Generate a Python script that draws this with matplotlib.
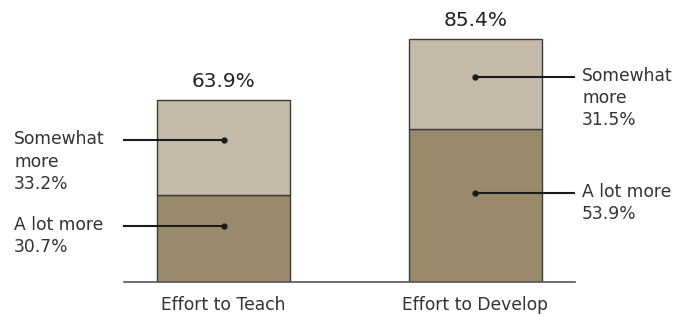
import matplotlib.pyplot as plt
import numpy as np

# datos
categorias = ['Effort to Teach', 'Effort to Develop']
mucho_mas = [30.7, 53.9]
algo_mas = [33.2, 31.5]
totales = [63.9, 85.4]
etiqueta_mucho = 'A lot more'
etiqueta_algo = 'Somewhat\nmore'

color_oscuro = '#9a8a6c'
color_claro = '#c5baa9'
color_borde = '#3a3a3a'
color_texto = '#333333'

plt.rcParams['font.family'] = ['DejaVu Sans']

fig = plt.figure(figsize=(6.83, 3.16), dpi=100)
W, H = 683, 316
# ejes en pixeles: izq 124, der 575, base 282 desde arriba
ax = fig.add_axes([124 / W, 34 / H, (575 - 124) / W, 270 / H])
ax.set_xlim(-0.395, 1.395)
ax.set_ylim(0, 95)
ax.axis('off')

x = np.arange(len(categorias))
ancho = 0.528
ax.bar(x, mucho_mas, ancho, color=color_oscuro, edgecolor=color_borde, linewidth=1)
ax.bar(x, algo_mas, ancho, bottom=mucho_mas, color=color_claro,
       edgecolor=color_borde, linewidth=1)
ax.plot([-0.395, 1.395], [0, 0], color='#555555', lw=1.2, clip_on=False)

for i in range(len(categorias)):
    ax.text(x[i], totales[i] + 6.7, f'{totales[i]:.1f}%', ha='center',
            va='center', fontsize=14.5, color='#222222')
    ax.text(x[i], -8.2, categorias[i], ha='center', va='center',
            fontsize=12.3, color=color_texto)

    y_osc = mucho_mas[i] / 2 + 4.5
    y_cla = mucho_mas[i] + algo_mas[i] / 2 + 2.6
    if i == 0:
        x0, xt = -0.395, -0.831
    else:
        x0, xt = 1.391, 1.423
    for y, txt in [(y_osc, f'{etiqueta_mucho}\n{mucho_mas[i]:.1f}%'),
                   (y_cla, f'{etiqueta_algo}\n{algo_mas[i]:.1f}%')]:
        ax.plot([x0, x[i]], [y, y], color='#1a1a1a', lw=1.5, clip_on=False)
        ax.plot(x[i], y, 'o', color='#1a1a1a', ms=3.5, clip_on=False)
        ax.annotate(txt, (xt, y), xytext=(0, 7), textcoords='offset points',
                    ha='left', va='top', fontsize=12.3, color=color_texto,
                    linespacing=1.3, annotation_clip=False)

fig.savefig('out.png', dpi=100)
